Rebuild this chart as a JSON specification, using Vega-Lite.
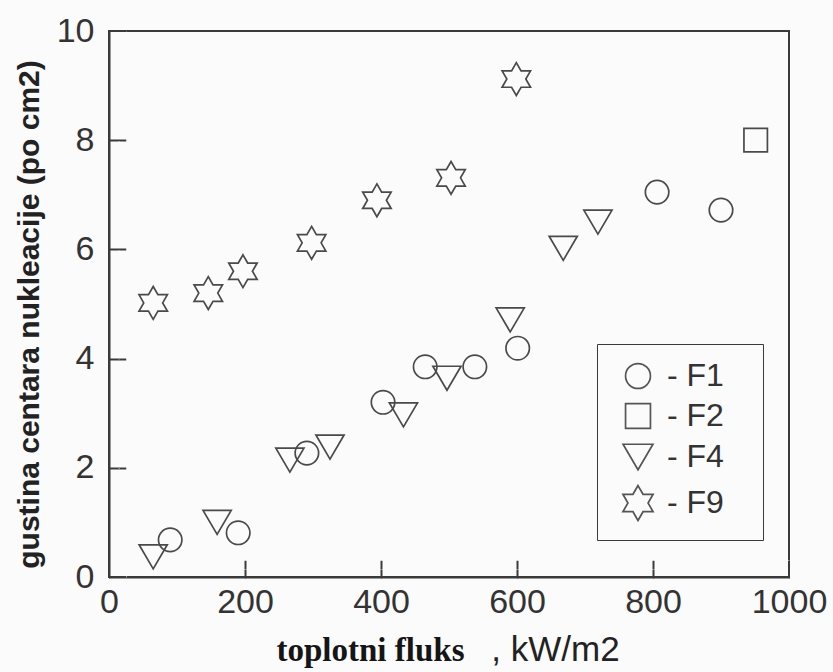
{
  "$schema": "https://vega.github.io/schema/vega-lite/v6.json",
  "autosize": "none",
  "width": 680,
  "height": 546,
  "padding": {"left": 109, "top": 31, "right": 44, "bottom": 95},
  "background": "#fbfbfb",
  "config": {
    "view": {"stroke": "#3a3a3a", "strokeWidth": 2},
    "axis": {"grid": false}
  },
  "data": {
    "values": [
      {"flux": 90, "density": 0.68, "series": "F1"},
      {"flux": 190, "density": 0.81, "series": "F1"},
      {"flux": 291, "density": 2.27, "series": "F1"},
      {"flux": 403, "density": 3.2, "series": "F1"},
      {"flux": 465, "density": 3.85, "series": "F1"},
      {"flux": 538, "density": 3.85, "series": "F1"},
      {"flux": 601, "density": 4.19, "series": "F1"},
      {"flux": 806, "density": 7.05, "series": "F1"},
      {"flux": 900, "density": 6.72, "series": "F1"},
      {"flux": 951, "density": 8.0, "series": "F2"},
      {"flux": 65, "density": 0.37, "series": "F4"},
      {"flux": 159, "density": 1.0, "series": "F4"},
      {"flux": 266, "density": 2.14, "series": "F4"},
      {"flux": 325, "density": 2.38, "series": "F4"},
      {"flux": 433, "density": 2.97, "series": "F4"},
      {"flux": 497, "density": 3.64, "series": "F4"},
      {"flux": 590, "density": 4.71, "series": "F4"},
      {"flux": 668, "density": 6.02, "series": "F4"},
      {"flux": 719, "density": 6.5, "series": "F4"},
      {"flux": 65, "density": 5.02, "series": "F9"},
      {"flux": 146, "density": 5.2, "series": "F9"},
      {"flux": 197, "density": 5.6, "series": "F9"},
      {"flux": 298, "density": 6.12, "series": "F9"},
      {"flux": 394, "density": 6.9, "series": "F9"},
      {"flux": 503, "density": 7.31, "series": "F9"},
      {"flux": 599, "density": 9.12, "series": "F9"}
    ]
  },
  "resolve": {"axis": {"x": "independent", "y": "independent"}},
  "layer": [
    {
      "mark": {"type": "point", "filled": false, "strokeWidth": 1.7, "size": 550, "opacity": 1},
      "encoding": {
        "x": {
          "field": "flux", "type": "quantitative",
          "scale": {"domain": [0, 1000], "nice": false, "zero": false},
          "axis": {
            "orient": "bottom",
            "values": [0, 200, 400, 600, 800, 1000],
            "format": "d",
            "ticks": true, "tickSize": 1, "tickWidth": 1, "tickColor": "#3a3a3a",
            "domainColor": "#3a3a3a", "domainWidth": 2,
            "labelFont": "Liberation Sans", "labelFontSize": 34, "labelColor": "#333",
            "labelPadding": 7, "labelFlush": false, "labelOverlap": false,
            "title": "toplotni fluks",
            "titleFont": "Liberation Serif", "titleFontWeight": "bold", "titleFontSize": 33, "titleColor": "#151515",
            "titleX": 261, "titleY": 83, "titleAlign": "center", "titleBaseline": "alphabetic"
          }
        },
        "y": {
          "field": "density", "type": "quantitative",
          "scale": {"domain": [0, 10], "nice": false, "zero": false},
          "axis": {
            "orient": "left",
            "values": [0, 2, 4, 6, 8, 10],
            "ticks": true, "tickSize": 1, "tickWidth": 1, "tickColor": "#3a3a3a",
            "domainColor": "#3a3a3a", "domainWidth": 2,
            "labelFont": "Liberation Sans", "labelFontSize": 34, "labelColor": "#333",
            "labelPadding": 14, "labelFlush": false, "labelOverlap": false,
            "title": "gustina centara nukleacije (po cm2)",
            "titleFont": "Liberation Sans", "titleFontWeight": "bold", "titleFontSize": 30, "titleColor": "#222",
            "titleX": -80, "titleY": 283, "titleAlign": "center", "titleBaseline": "middle", "titleAngle": -90
          }
        },
        "shape": {
          "field": "series", "type": "nominal",
          "scale": {
            "domain": ["F1", "F2", "F4", "F9"],
            "range": [
              "circle",
              "square",
              "M-1.2,-1.025L1.2,-1.025L0,1.025Z",
              "M0,-1.4L0.404,-0.7L1.212,-0.7L0.808,0L1.212,0.7L0.404,0.7L0,1.4L-0.404,0.7L-1.212,0.7L-0.808,0L-1.212,-0.7L-0.404,-0.7Z"
            ]
          },
          "legend": {
            "orient": "none", "legendX": 488, "legendY": 313,
            "title": null,
            "padding": 16,
            "strokeColor": "#3a3a3a", "fillColor": "#fbfbfb",
            "symbolSize": 620, "symbolStrokeColor": "#555", "symbolFillColor": "transparent", "symbolStrokeWidth": 1.7,
            "symbolOffset": 9,
            "labelFont": "Liberation Sans", "labelFontSize": 32, "labelColor": "#333",
            "labelOffset": 13, "rowPadding": 8,
            "labelExpr": "'- ' + datum.label + '\u2800'"
          }
        },
        "color": {"value": "#4a4a4a"}
      }
    },
    {
      "mark": {"type": "point", "opacity": 0},
      "encoding": {
        "x": {
          "field": "flux", "type": "quantitative",
          "axis": {
            "orient": "bottom", "offset": -17,
            "values": [200, 400, 600, 800],
            "domain": true, "domainColor": "#fbfbfb", "domainWidth": 0.5,
            "labels": true, "labelColor": "#fbfbfb", "labelFontSize": 2, "labelPadding": -10,
            "ticks": true, "tickSize": 17, "tickWidth": 2, "tickColor": "#3a3a3a",
            "title": ", kW/m2",
            "titleFont": "Liberation Sans", "titleFontWeight": "normal", "titleFontSize": 35, "titleColor": "#222",
            "titleX": 446, "titleY": 100, "titleAlign": "center", "titleBaseline": "alphabetic"
          }
        },
        "y": {
          "field": "density", "type": "quantitative",
          "axis": {
            "orient": "left", "offset": -17,
            "values": [2, 4, 6, 8],
            "domain": true, "domainColor": "#fbfbfb", "domainWidth": 0.5,
            "labels": true, "labelColor": "#fbfbfb", "labelFontSize": 2, "labelPadding": -10,
            "ticks": true, "tickSize": 17, "tickWidth": 2, "tickColor": "#3a3a3a",
            "title": null
          }
        }
      }
    }
  ]
}
